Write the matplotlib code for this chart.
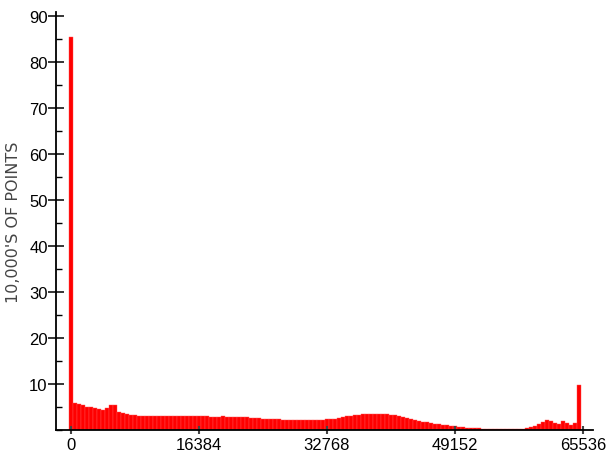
import numpy as np
import matplotlib.pyplot as plt
from matplotlib.ticker import MultipleLocator

plt.rcParams['font.family'] = ['Liberation Sans', 'DejaVu Sans']

# Histogram of 16-bit values, 128 bins of 512 wide
bin_width = 512
counts = [
    85.5, 5.8, 5.65, 5.4, 5.1, 4.9, 4.8, 4.65, 4.3, 4.7,
    5.4, 5.4, 3.85, 3.6, 3.4, 3.25, 3.2, 3.1, 3.1, 3.05,
    3.05, 3.0, 3.0, 3.0, 3.0, 2.95, 3.0, 3.0, 2.95, 2.95,
    2.95, 2.95, 2.95, 2.95, 2.95, 2.9, 2.9, 2.9, 2.95, 2.9,
    2.9, 2.85, 2.85, 2.8, 2.75, 2.7, 2.65, 2.6, 2.5, 2.45,
    2.4, 2.35, 2.3, 2.25, 2.2, 2.2, 2.15, 2.15, 2.1, 2.1,
    2.1, 2.15, 2.2, 2.25, 2.3, 2.4, 2.5, 2.65, 2.8, 2.95,
    3.1, 3.25, 3.35, 3.45, 3.5, 3.55, 3.55, 3.55, 3.5, 3.45,
    3.35, 3.2, 3.05, 2.85, 2.65, 2.45, 2.25, 2.05, 1.85, 1.7,
    1.55, 1.4, 1.25, 1.1, 1.0, 0.9, 0.8, 0.65, 0.55, 0.5,
    0.45, 0.4, 0.35, 0.32, 0.3, 0.28, 0.25, 0.22, 0.2, 0.2,
    0.2, 0.2, 0.22, 0.25, 0.35, 0.55, 0.9, 1.3, 1.8, 2.15,
    1.95, 1.55, 1.2, 1.9, 1.5, 1.05, 1.45, 9.7,
]
bin_centers = np.arange(len(counts)) * bin_width

x_ticks = [0, 16384, 32768, 49152, 65536]
y_ticks = [10, 20, 30, 40, 50, 60, 70, 80, 90]
y_label = "10,000'S OF POINTS"

fig = plt.figure(figsize=(6.06, 4.56), dpi=100)
ax = fig.add_axes([0.0924, 0.0548, 0.886, 0.917])

ax.bar(bin_centers, counts, width=bin_width, color='#ff0000',
       edgecolor='#ff5050', linewidth=0.3, align='center')

ax.set_xlim(-1920, 66816)
ax.set_ylim(0, 91)

ax.spines['top'].set_visible(False)
ax.spines['right'].set_visible(False)
ax.spines['left'].set_linewidth(1.3)
ax.spines['bottom'].set_linewidth(1.3)

ax.set_xticks(x_ticks)
ax.set_xticklabels([str(t) for t in x_ticks])
ax.set_yticks(y_ticks)
ax.set_yticklabels([str(t) for t in y_ticks])
ax.yaxis.set_minor_locator(MultipleLocator(5))

ax.tick_params(axis='y', which='major', direction='inout', length=12,
               width=1.1, pad=0, labelsize=12)
ax.tick_params(axis='y', which='minor', direction='in', length=4,
               width=1.0)
ax.tick_params(axis='x', which='major', direction='inout', length=6,
               width=1.5, color='#444444', pad=2, labelsize=12)

# small-caps look: wide font, all upper case
ax.set_ylabel(y_label, fontsize=11.5, color='#444444', family='DejaVu Sans')
ax.yaxis.set_label_coords(-0.066, 0.5)

fig.savefig('out.png', dpi=100)
